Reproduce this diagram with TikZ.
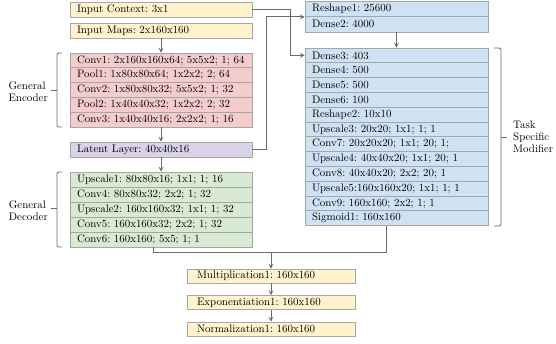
\documentclass[tikz,border=0pt]{standalone}
\usepackage{tikz}
\usetikzlibrary{arrows.meta}

\definecolor{boxline}{HTML}{A6A6A6}
\definecolor{wire}{HTML}{6A6A6A}
\definecolor{inyellow}{HTML}{FFF2CC}
\definecolor{encred}{HTML}{F4CCCC}
\definecolor{latpurple}{HTML}{D9D2E9}
\definecolor{decgreen}{HTML}{D9EAD3}
\definecolor{taskblue}{HTML}{CFE2F3}

\tikzset{
  layer/.style={draw=boxline,line width=0.8pt,fill=#1,text width=168pt,inner xsep=7pt,
    inner ysep=0pt,minimum height=14.8pt,align=left,execute at begin node=\frenchspacing},
  rlayer/.style={layer=#1,text width=169pt},
  blayer/.style={layer=#1,text width=148pt,inner xsep=10pt,minimum height=14pt},
  line/.style={draw=wire,line width=0.9pt},
  conn/.style={line,-{Stealth[length=5pt,width=5pt,inset=2.2pt]}},
  brace/.style={draw=wire,line width=0.8pt,rounded corners=2pt}
}

\begin{document}
\begin{tikzpicture}[x=1pt,y=-1pt,font=\fontsize{10.9}{12}\selectfont]
  \useasboundingbox (0,0) rectangle (556,343);

  % inputs and general encoder
  \node[layer=inyellow,minimum height=15pt] (ctx) at (161,9.5) {Input Context: 3x1};
  \node[layer=inyellow,minimum height=15pt] (maps) at (161,30.5) {Input Maps: 2x160x160};
  \node[layer=encred] (enc1) at (161,60.4) {Conv1: 2x160x160x64; 5x5x2; 1; 64};
  \node[layer=encred] (enc2) at (161,75.2) {Pool1: 1x80x80x64; 1x2x2; 2; 64};
  \node[layer=encred] (enc3) at (161,90) {Conv2: 1x80x80x32; 5x5x2; 1; 32};
  \node[layer=encred] (enc4) at (161,104.8) {Pool2: 1x40x40x32; 1x2x2; 2; 32};
  \node[layer=encred] (enc5) at (161,119.6) {Conv3: 1x40x40x16; 2x2x2; 1; 16};
  \node[layer=latpurple,minimum height=15pt] (latent) at (161,149.5) {Latent Layer: 40x40x16};

  % general decoder
  \node[layer=decgreen,minimum height=15pt] (dec1) at (161,179.5) {Upscale1: 80x80x16; 1x1; 1; 16};
  \node[layer=decgreen,minimum height=15pt] (dec2) at (161,194.5) {Conv4: 80x80x32; 2x2; 1; 32};
  \node[layer=decgreen,minimum height=15pt] (dec3) at (161,209.5) {Upscale2: 160x160x32; 1x1; 1; 32};
  \node[layer=decgreen,minimum height=15pt] (dec4) at (161,224.5) {Conv5: 160x160x32; 2x2; 1; 32};
  \node[layer=decgreen,minimum height=15pt] (dec5) at (161,239.5) {Conv6: 160x160; 5x5; 1; 1};

  % task specific modifier
  \node[rlayer=taskblue,minimum height=15.5pt] (reshape1) at (396.5,8.75) {Reshape1: 25600};
  \node[rlayer=taskblue,minimum height=15.5pt] (dense2) at (396.5,24.25) {Dense2: 4000};
  \node[rlayer=taskblue] (dense3) at (396.5,55.4) {Dense3: 403};
  \node[rlayer=taskblue] (dense4) at (396.5,70.2) {Dense4: 500};
  \node[rlayer=taskblue] (dense5) at (396.5,85) {Dense5: 500};
  \node[rlayer=taskblue] (dense6) at (396.5,99.8) {Dense6: 100};
  \node[rlayer=taskblue] (reshape2) at (396.5,114.6) {Reshape2: 10x10};
  \node[rlayer=taskblue] (up3) at (396.5,129.4) {Upscale3: 20x20; 1x1; 1; 1};
  \node[rlayer=taskblue] (conv7) at (396.5,144.2) {Conv7: 20x20x20; 1x1; 20; 1;};
  \node[rlayer=taskblue] (up4) at (396.5,159) {Upscale4: 40x40x20; 1x1; 20; 1};
  \node[rlayer=taskblue] (conv8) at (396.5,173.8) {Conv8: 40x40x20; 2x2; 20; 1};
  \node[rlayer=taskblue] (up5) at (396.5,188.6) {Upscale5:160x160x20; 1x1; 1; 1};
  \node[rlayer=taskblue] (conv9) at (396.5,203.4) {Conv9: 160x160; 2x2; 1; 1};
  \node[rlayer=taskblue] (sig) at (396.5,218.2) {Sigmoid1: 160x160};

  % output
  \node[blayer=inyellow] (mult) at (271,276) {Multiplication1: 160x160};
  \node[blayer=inyellow] (expo) at (271,302.5) {Exponentiation1: 160x160};
  \node[blayer=inyellow] (norm) at (271,329) {Normalization1: 160x160};

  % connectors
  \draw[conn] (maps) -- (enc1);
  \draw[conn] (enc5) -- (latent);
  \draw[conn] (latent) -- (dec1);
  \draw[conn] (latent.east) -- ++(14,0) |- (reshape1.south west);
  \coordinate (ctxbend) at (290,0);
  \draw[conn] (ctx.east) -| (ctxbend |- dense3.west) -- (dense3.west);
  \draw[conn] (dense2) -- (dense3);
  \coordinate (merge) at (271,252);
  \draw[line] ([xshift=-8pt]dec5.south) |- (merge);
  \draw[line] ([xshift=-10pt]sig.south) |- (merge);
  \draw[conn] (merge) -- (mult);
  \draw[conn] (mult) -- (expo);
  \draw[conn] (expo) -- (norm);

  % braces
  \draw[brace] (62,53) -- (57,53) -- (57,127) -- (62,127);
  \draw[brace] (57,90) -- (51,90);
  \node[anchor=east,align=left,inner sep=1pt] (enclabel) at (49,92) {General\\Encoder};
  \draw[brace] (62,172) -- (57,172) -- (57,247) -- (62,247);
  \draw[brace] (57,208) -- (51,208);
  \node[anchor=east,align=left,inner sep=1pt] (declabel) at (49,211) {General\\Decoder};
  \draw[brace] (494,48) -- (501,48) -- (501,226) -- (494,226);
  \draw[brace] (501,137) -- (507,137);
  \node[anchor=west,align=left,inner sep=1pt] (tasklabel) at (512,137) {Task\\Specific\\Modifier};
\end{tikzpicture}
\end{document}
